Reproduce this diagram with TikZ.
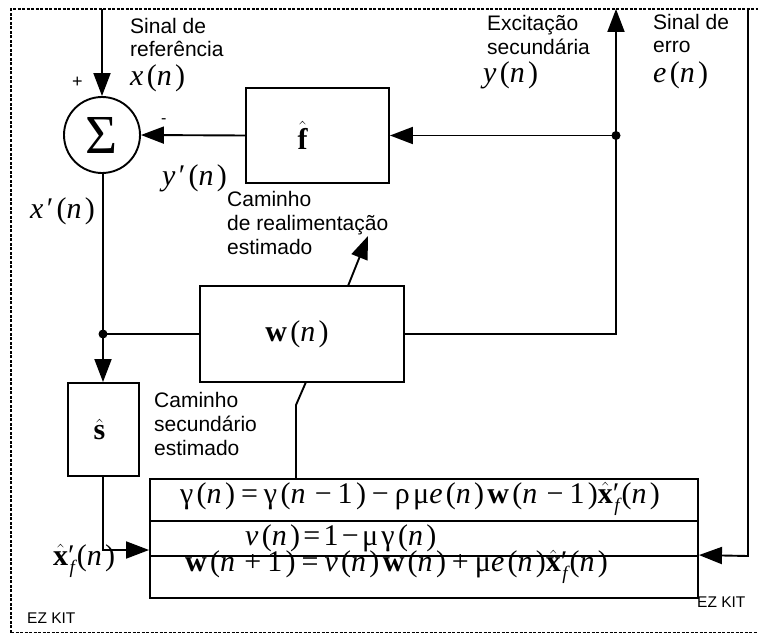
\documentclass[tikz,border=0pt]{standalone}
\usepackage{fontspec}
\setmainfont{Liberation Serif}
\setsansfont{Liberation Sans}
\newfontfamily\tmsls[LetterSpace=11]{Liberation Serif}
\usetikzlibrary{arrows.meta}
\newcommand\lab{\sffamily\fontsize{21}{24}\selectfont}
\newcommand\mth{\tmsls\fontsize{30}{30}\selectfont}
\newcommand\mi[1]{\textit{#1}}
\newcommand\bhat[1]{\mbox{$\hat{\hbox{\bfseries #1}}$}}
\newcommand\xf{\bhat{x}\rlap{′}\raisebox{-0.28em}{\fontsize{19}{19}\selectfont\itshape\kern0.08em f}\kern0.06em}
\newcommand\mm{\kern0.2em−\kern0.2em}
\newcommand\pp{\kern0.2em+\kern0.2em}
\newcommand\eqs{\kern0.2em=\kern0.2em}
\begin{document}
\begin{tikzpicture}[x=1pt,y=-1pt,
  ln/.style={line width=1.9pt},
  arr/.style={line width=1.9pt,-{Triangle[length=23pt,width=17pt]}},
  blk/.style={draw,line width=1.9pt,inner sep=0pt,rectangle},
  txt/.style={inner sep=0pt,anchor=base west},
  ml/.style={inner sep=0pt,anchor=base west,align=left,font=\lab}]
\useasboundingbox (0,0) rectangle (758,634);
\clip (0,0) rectangle (758,634);
% border
\draw[line width=1.9pt,dash pattern=on 3pt off 1.5pt] (11,632.5) -- (11,9) -- (760,9);
\draw[line width=1.9pt,dash pattern=on 3pt off 1.5pt] (11,632.5) -- (760,632.5);
% blocks
\node[draw,circle,line width=1.9pt,minimum size=76pt,inner sep=0pt] (sum) at (102,135) {\fontsize{55}{55}\selectfont Σ};
\node[blk,minimum width=143pt,minimum height=95pt] (fbox) at (317.5,135.5) {\mth\kern-30pt\bhat{f}};
\node[blk,minimum width=204pt,minimum height=96pt] (wbox) at (302,334) {\mth\kern-10pt\textbf{w}(\mi{n})};
\node[blk,minimum width=71pt,minimum height=93pt] (sbox) at (103.5,429.5) {\mth\kern-8pt\bhat{s}};
\node[blk,minimum width=548pt,minimum height=42pt] (eq1) at (424,500) {};
\node[blk,minimum width=548pt,minimum height=35pt] (eq2) at (424,538.5) {};
\node[blk,minimum width=548pt,minimum height=42pt] (eq3) at (424,577) {};
\node[txt] (t1) at (180,503) {\mth γ(\mi{n})\eqs γ(\mi{n}\mm 1)\mm ρμ\mi{e}(\mi{n})\textbf{w}(\mi{n}\mm 1)\xf(\mi{n})};
\node[txt] (t2) at (245,545) {\mth \mi{ν}(\mi{n})=1−μγ(\mi{n})};
\node[txt] (t3) at (185,571) {\mth \textbf{w}(\mi{n}\pp 1)\eqs \mi{ν}(\mi{n})\textbf{w}(\mi{n})\pp μ\mi{e}(\mi{n})\xf(\mi{n})};
% coordinates
\coordinate (xtop) at (sum.north |- 0,9);
\coordinate (jy) at (616,135.5);
\coordinate (jw) at (616,334);
\coordinate (ytop) at (616,9);
\coordinate (jx) at (103,334);
\coordinate (ein) at (eq3.west |- 0,550);
\coordinate (etop) at (748,9);
\coordinate (ecorner) at (748,556);
\coordinate (eqin) at (eq3.north east);
\coordinate (wb1) at (306,382);
\coordinate (wb2) at (296,405);
\coordinate (wb3) at (296,479);
\coordinate (wt1) at (348,286);
\coordinate (wt2) at (368,236);
% connectors
\draw[arr] (xtop) -- (sum.north);
\draw[arr] (fbox.west) -- (sum.east);
\draw[arr] (jy) -- (fbox.east);
\draw[arr] (wbox.east) -- (jw) -- (ytop);
\draw[ln] (sum.south -| jx) -- (jx);
\draw[ln] (jx) -- (wbox.west);
\draw[arr] (jx) -- (sbox.north -| jx);
\draw[arr] (sbox.south -| jx) |- (ein);
\draw[arr] (etop) -- (ecorner) -- (eqin);
\draw[ln] (wb1) -- (wb2) -- (wb3);
\draw[arr] (wt1) -- (wt2);
\fill (jy) circle (4.5pt);
\fill (jx) circle (4.5pt);
% labels
\node[ml] (l1) at (130,57) {Sinal de\\referência};
\node[txt] (l2) at (130,85) {\mth\mi{x}(\mi{n})};
\node[txt] (plus) at (72,88) {\sffamily\fontsize{18}{18}\selectfont +};
\node[txt] (minus) at (161,124) {\sffamily\fontsize{16}{16}\selectfont -};
\node[txt] (l3) at (162,185) {\mth\mi{y}′(\mi{n})};
\node[txt] (l4) at (30,218) {\mth\mi{x}′(\mi{n})};
\node[ml] (l5) at (227,254) {Caminho\\de realimentação\\estimado};
\node[ml] (l6) at (487,55) {Excitação\\secundária};
\node[txt] (l7) at (483,83) {\mth\mi{y}(\mi{n})};
\node[ml] (l8) at (653,53) {Sinal de\\erro};
\node[txt] (l9) at (653,83) {\mth\mi{e}(\mi{n})};
\node[ml] (l10) at (154,455) {Caminho\\secundário\\estimado};
\node[txt] (l11) at (53,565) {\mth\xf(\mi{n})};
\node[txt] (ez1) at (27,623) {\sffamily\fontsize{15.5}{15.5}\selectfont EZ KIT};
\node[txt] (ez2) at (697,607) {\sffamily\fontsize{15.5}{15.5}\selectfont EZ KIT};
\end{tikzpicture}
\end{document}
